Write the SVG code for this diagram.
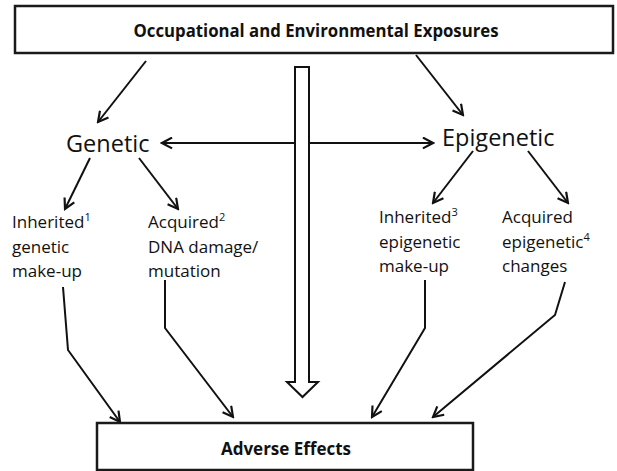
<svg xmlns="http://www.w3.org/2000/svg" width="617" height="471" viewBox="0 0 617 471">
<defs>
<marker id="ah" viewBox="0 0 12 12" markerWidth="13" markerHeight="13" refX="10.5" refY="6" orient="auto-start-reverse" markerUnits="userSpaceOnUse">
<path d="M1.2,1 L10.5,6 L1.2,11" fill="none" stroke="#111" stroke-width="2"/>
</marker>
<style>
.box{fill:#fff;stroke:#1a1a1a;stroke-width:2.5}
.hd{font-family:"Open Sans","Liberation Sans",sans-serif;font-weight:bold;font-size:17px;fill:#111}
.big{font-family:"Open Sans","Liberation Sans",sans-serif;font-size:23.5px;fill:#111}
.lbl{font-family:"Open Sans","Liberation Sans",sans-serif;font-size:17px;fill:#111}
.sup{font-size:11px}
.c{fill:none;stroke:#111;stroke-width:2}
</style>
</defs>
<g id="connectors">
<line class="c" x1="146" y1="61" x2="98" y2="122" marker-end="url(#ah)"/>
<line class="c" x1="416" y1="55" x2="463" y2="115" marker-end="url(#ah)"/>
<line class="c" x1="162" y1="143" x2="433" y2="143" marker-start="url(#ah)" marker-end="url(#ah)"/>
<line class="c" x1="90" y1="158" x2="65" y2="209" marker-end="url(#ah)"/>
<line class="c" x1="139" y1="158" x2="178" y2="209" marker-end="url(#ah)"/>
<line class="c" x1="473" y1="151" x2="433" y2="203" marker-end="url(#ah)"/>
<line class="c" x1="528" y1="151" x2="568" y2="203" marker-end="url(#ah)"/>
<polyline class="c" points="63,287 68,350 120,422" marker-end="url(#ah)"/>
<polyline class="c" points="165,280 165,328 233,417" marker-end="url(#ah)"/>
<polyline class="c" points="425,280 425,328 372,417" marker-end="url(#ah)"/>
<polyline class="c" points="565,282 555,315 433,417" marker-end="url(#ah)"/>
<polygon id="flow" points="295,67 309,67 309,382 318,382 302.5,397 287,382 295,382" fill="#fff" stroke="#111" stroke-width="2"/>
</g>
<g id="exposures">
<rect class="box" x="15" y="6" width="598" height="47"/>
<text class="hd" x="316" y="37" text-anchor="middle" textLength="365" lengthAdjust="spacingAndGlyphs">Occupational and Environmental Exposures</text>
</g>
<g id="genetic">
<text class="big" x="66" y="152">Genetic</text>
</g>
<g id="epigenetic">
<text class="big" x="442" y="146">Epigenetic</text>
</g>
<g id="inherited-genetic">
<text class="lbl" x="12" y="228">Inherited<tspan class="sup" dy="-7">1</tspan></text>
<text class="lbl" x="12" y="252.5">genetic</text>
<text class="lbl" x="12" y="277">make-up</text>
</g>
<g id="acquired-genetic">
<text class="lbl" x="148" y="228">Acquired<tspan class="sup" dy="-7">2</tspan></text>
<text class="lbl" x="148" y="252.5">DNA damage/</text>
<text class="lbl" x="148" y="277">mutation</text>
</g>
<g id="inherited-epigenetic">
<text class="lbl" x="379" y="223">Inherited<tspan class="sup" dy="-7">3</tspan></text>
<text class="lbl" x="379" y="247.5">epigenetic</text>
<text class="lbl" x="379" y="272">make-up</text>
</g>
<g id="acquired-epigenetic">
<text class="lbl" x="502" y="223">Acquired</text>
<text class="lbl" x="502" y="247.5">epigenetic<tspan class="sup" dy="-7">4</tspan></text>
<text class="lbl" x="502" y="272">changes</text>
</g>
<g id="adverse">
<rect class="box" x="97" y="423" width="376" height="47"/>
<text class="hd" x="286" y="455" text-anchor="middle">Adverse Effects</text>
</g>
</svg>
